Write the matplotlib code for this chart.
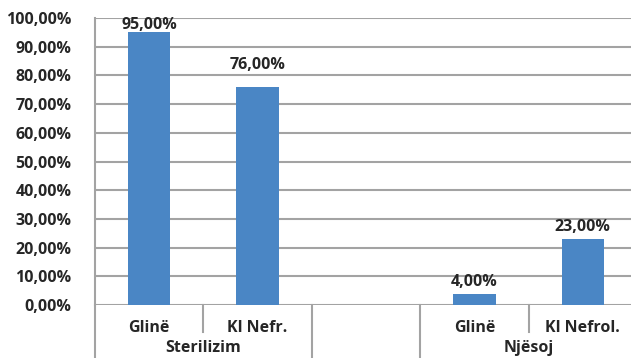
import matplotlib
matplotlib.use("Agg")
import matplotlib.pyplot as plt
import matplotlib.transforms as mtransforms
import numpy as np

# Chart data
categories = ["Glinë", "Kl Nefr.", "", "Glinë", "Kl Nefrol."]
values = [95.0, 76.0, np.nan, 4.0, 23.0]
groups = ["Sterilizim", "Njësoj"]
group_spans = [(0, 1), (3, 4)]
yticks = list(range(0, 101, 10))

plt.rcParams['font.family'] = ['Open Sans', 'DejaVu Sans']
text_color = "#262626"
grid_color = "#a3a3a3"
bar_color = "#4a86c5"
fs = 11.5

W, H = 631, 358
fig = plt.figure(figsize=(W / 100, H / 100), dpi=100)
left, right, top, bottom = 95, 637, 18, 305
ax = fig.add_axes([left / W, (H - bottom) / H, (right - left) / W, (bottom - top) / H])

x = np.arange(len(categories))
ax.bar(x, values, width=0.39, color=bar_color, zorder=3)

# value labels; the top one is nudged down so it stays inside the plot
label_gap = [-0.3, 5.0, 0, 1.3, 1.3]
for xi, v, g in zip(x, values, label_gap):
    if np.isnan(v):
        continue
    ax.text(xi, v + g, f"{v:.2f}%".replace(".", ","), ha="center", va="bottom",
            fontsize=fs, fontweight="bold", color=text_color, zorder=4,
            clip_on=False)

ax.set_xlim(-0.5, len(categories) - 0.5)
ax.set_ylim(0, 100)
ax.set_yticks(yticks)
ax.set_yticklabels([f"{t:.2f}%".replace(".", ",") for t in yticks],
                   fontsize=fs, fontweight="bold", color=text_color)
ax.tick_params(axis="y", length=0, pad=17)
ax.tick_params(axis="x", length=0, labelbottom=False)
ax.yaxis.grid(True, color=grid_color, linewidth=1.5, zorder=0)
ax.set_axisbelow(True)
for s in ["top", "right", "bottom"]:
    ax.spines[s].set_visible(False)
ax.spines["left"].set_color(grid_color)
ax.spines["left"].set_linewidth(1.5)

# category axis: labels and separators below the plot
trans = mtransforms.blended_transform_factory(ax.transData, ax.transAxes)
px = 1.0 / (bottom - top)
for xi, lab in zip(x, categories):
    if lab:
        ax.text(xi, -23 * px, lab, transform=trans, ha="center", va="center",
                fontsize=fs, fontweight="bold", color=text_color, clip_on=False)
for (a, b), g in zip(group_spans, groups):
    ax.text((a + b) / 2, -43 * px, g, transform=trans, ha="center", va="center",
            fontsize=fs, fontweight="bold", color=text_color, clip_on=False)

for sx in [-0.5, 1.5, 2.5, 4.5]:
    ax.plot([sx, sx], [0, -60 * px], transform=trans, color=grid_color,
            linewidth=1.5, clip_on=False)
for sx in [0.5, 3.5]:
    ax.plot([sx, sx], [0, -27 * px], transform=trans, color=grid_color,
            linewidth=1.5, clip_on=False)

fig.savefig("out.png", dpi=100)
